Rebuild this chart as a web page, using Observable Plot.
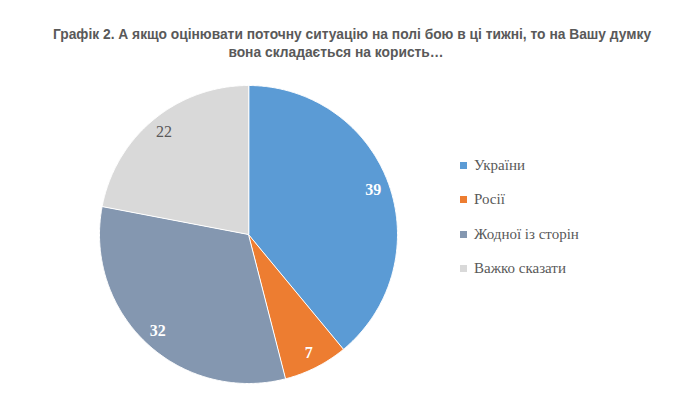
<!DOCTYPE html>
<html>
<head>
<meta charset="utf-8">
<script src="https://cdn.jsdelivr.net/npm/d3@7"></script>
<script src="https://cdn.jsdelivr.net/npm/@observablehq/plot@0.6"></script>
<style>
  html, body { margin: 0; padding: 0; background: #fff; }
  #wrap { position: relative; width: 678px; height: 411px; overflow: hidden; }
  .tl { position: absolute; white-space: nowrap; transform: translateX(-50%);
    font-family: 'Liberation Sans', Arial, sans-serif; font-weight: bold; font-size: 13.8px;
    line-height: 1; color: #595959; }
  #chart { position: absolute; left: 97px; top: 83px; }
  #legend { position: absolute; left: 460px; top: 148px; font-size: 15px; color: #595959; }
  .item { display: flex; align-items: center; height: 34.5px; }
  .sw { width: 7px; height: 7px; margin-right: 7px; }
</style>
</head>
<body>
<div id="wrap">
  <div class="tl" style="left:352px; top:28px;">Графік 2. А якщо оцінювати поточну ситуацію на полі бою в ці тижні, то на Вашу думку</div>
  <div class="tl" style="left:336px; top:46px;">вона складається на користь…</div>
  <div id="chart"></div>
  <div id="legend" style="font-family:'Liberation Serif', Tinos, serif"></div>
</div>
<script>
const labels = ["України", "Росії", "Жодної із сторін", "Важко сказати"];
const values = [39, 7, 32, 22];
const colors = ["#5B9BD5", "#ED7D31", "#8497B0", "#D9D9D9"];
const textColors = ["#ffffff", "#ffffff", "#ffffff", "#595959"];

const serif = "'Liberation Serif', Tinos, serif";
const data = labels.map((label, i) => ({label, value: values[i], color: colors[i], textColor: textColors[i]}));
const arcs = d3.pie().sort(null).value(d => d.value)(data);

function pt(a, r) { return [r * Math.sin(a), -r * Math.cos(a)]; }

const features = arcs.map(a => {
  const ring = [[0, 0]];
  const n = Math.max(2, Math.ceil((a.endAngle - a.startAngle) / (Math.PI / 360)));
  for (let k = 0; k <= n; k++) ring.push(pt(a.startAngle + (a.endAngle - a.startAngle) * k / n, 1));
  ring.push([0, 0]);
  return {type: "Feature", properties: {label: a.data.label}, geometry: {type: "Polygon", coordinates: [ring]}};
});
const fc = {type: "FeatureCollection", features};

const labelPts = arcs.map(a => {
  const m = (a.startAngle + a.endAngle) / 2;
  const [x, y] = pt(m, 0.89);
  return {x, y, text: String(a.data.value), label: a.data.label, textColor: a.data.textColor};
});

const chart = Plot.plot({
  width: 302,
  height: 302,
  margin: 0,
  style: {fontFamily: serif, background: "transparent"},
  projection: {type: "identity", domain: {type: "MultiPoint", coordinates: [[-1, -1], [1, 1]]}, inset: 2},
  color: {domain: labels, range: colors},
  marks: [
    Plot.geo(fc, {fill: d => d.properties.label, stroke: "#ffffff", strokeWidth: 1}),
    Plot.text(labelPts.filter(d => d.textColor === "#ffffff"), {x: "x", y: "y", text: "text", fill: "#ffffff",
      fontFamily: serif, fontSize: 16, fontWeight: "bold"}),
    Plot.text(labelPts.filter(d => d.textColor !== "#ffffff"), {x: "x", y: "y", text: "text", fill: "#595959",
      fontFamily: serif, fontSize: 16})
  ]
});
document.getElementById("chart").appendChild(chart);

const legend = document.getElementById("legend");
data.forEach(d => {
  const item = document.createElement("div");
  item.className = "item";
  const sw = document.createElement("span");
  sw.className = "sw";
  sw.style.background = d.color;
  const t = document.createElement("span");
  t.textContent = d.label;
  t.style.fontFamily = serif;
  item.appendChild(sw);
  item.appendChild(t);
  legend.appendChild(item);
});
</script>
</body>
</html>
